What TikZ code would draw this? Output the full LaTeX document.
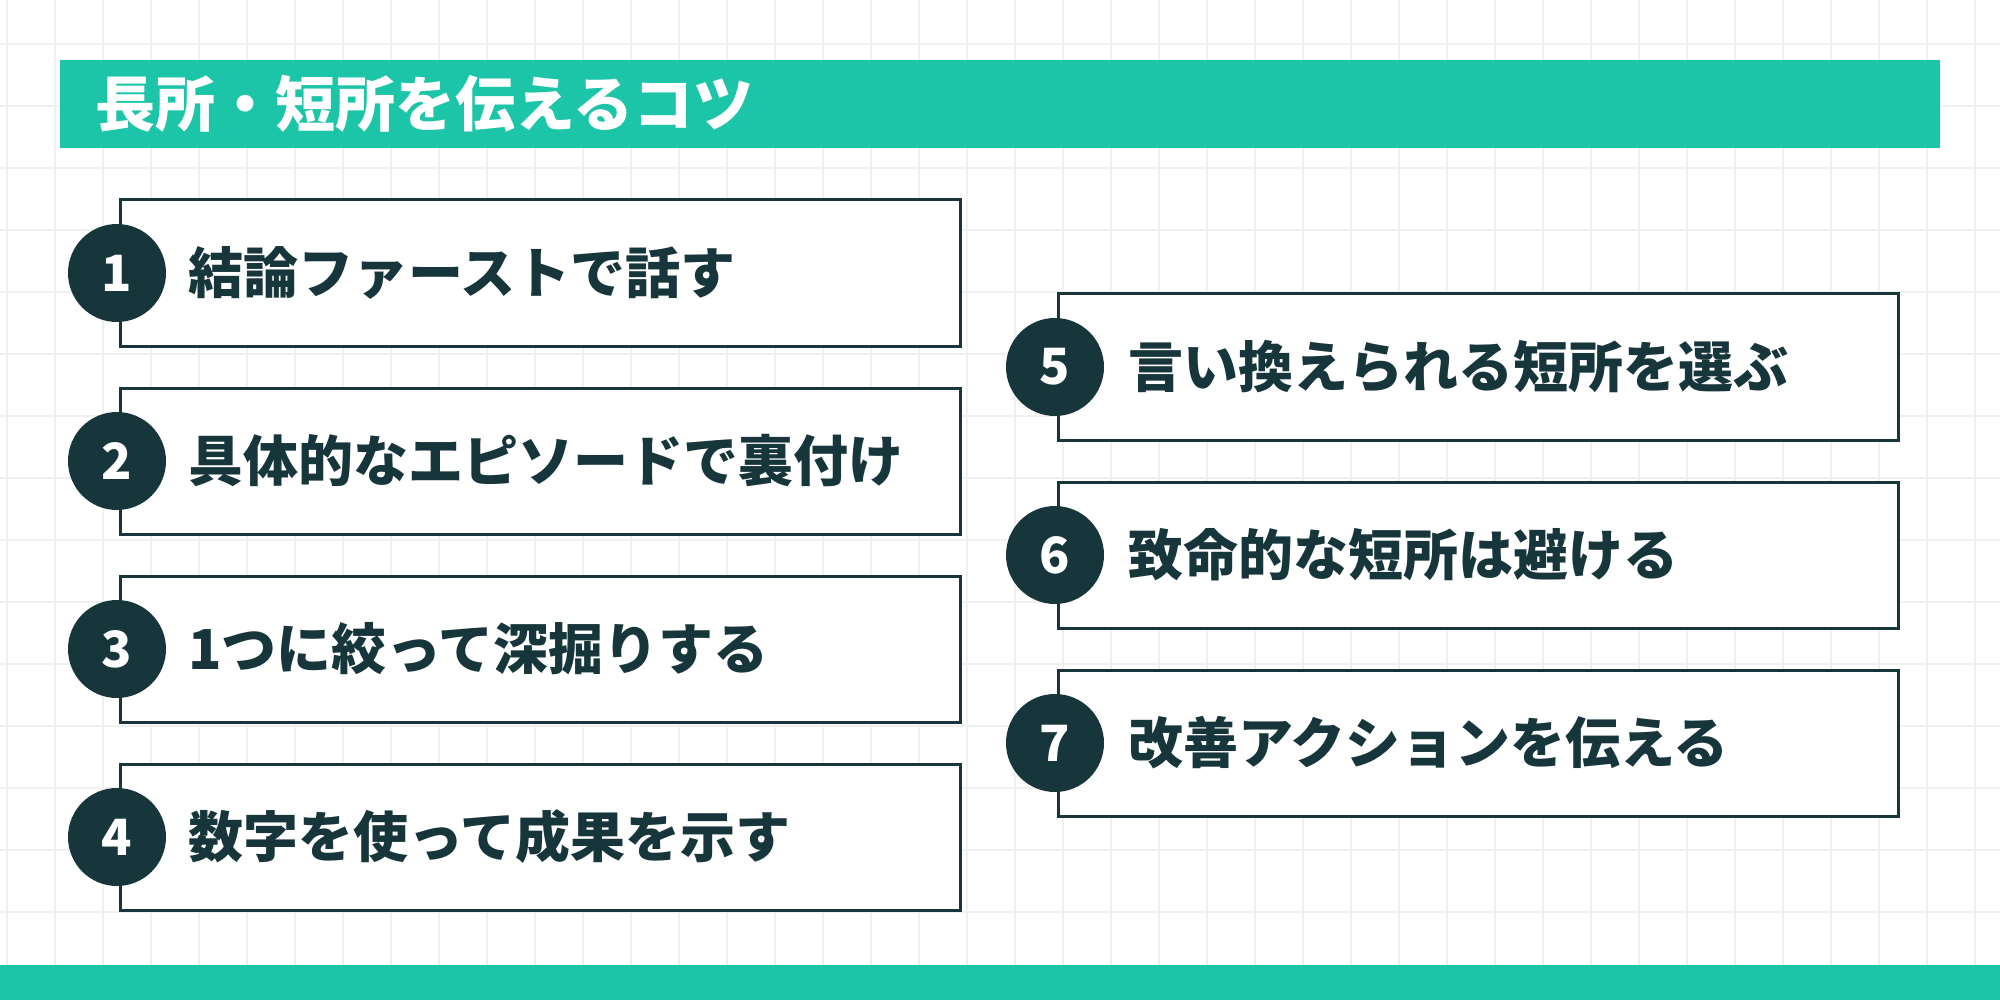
\documentclass[tikz,border=0pt]{standalone}
\usepackage{fontspec}
\newfontfamily\jp{Noto Sans CJK JP Black}
\definecolor{teal}{HTML}{1DC5A8}
\definecolor{dark}{HTML}{17363B}
\begin{document}
\begin{tikzpicture}[x=1pt,y=-1pt,
  item/.style={draw=dark,line width=3pt,fill=white},
  num/.style={circle,fill=dark,minimum size=98pt,inner sep=0pt,text=white,font=\jp\fontsize{50}{50}\selectfont},
  lbl/.style={anchor=west,text=dark,font=\jp\fontsize{55}{55}\selectfont,inner sep=0pt}]
\useasboundingbox (0,0) rectangle (2000,1000);
\fill[white] (0,0) rectangle (2000,1000);
\foreach \x in {7,55,...,2000} \draw[black!6,line width=1.2pt] (\x,0) -- (\x,1000);
\foreach \y in {44,106,...,1000} \draw[black!6,line width=1.2pt] (0,\y) -- (2000,\y);
\fill[teal] (60,60) rectangle (1940,148);
\node[anchor=west,text=white,font=\jp\fontsize{60}{60}\selectfont,inner sep=0pt] (title) at (95,104) {長所・短所を伝えるコツ};
\fill[teal] (0,965) rectangle (2000,1000);
\foreach \i/\y/\t in {1/273/結論ファーストで話す,2/461/具体的なエピソードで裏付け,3/649/1つに絞って深掘りする,4/837/数字を使って成果を示す}{
  \draw[item] (120,\y-73) rectangle (960,\y+73);
  \node[num] (n\i) at (117,\y) {\i};
  \node[lbl] (t\i) at (188,\y) {\t};
}
\foreach \i/\y/\t in {5/367/言い換えられる短所を選ぶ,6/555/致命的な短所は避ける,7/743/改善アクションを伝える}{
  \draw[item] (1058,\y-73) rectangle (1898,\y+73);
  \node[num] (n\i) at (1055,\y) {\i};
  \node[lbl] (t\i) at (1128,\y) {\t};
}
\end{tikzpicture}
\end{document}
